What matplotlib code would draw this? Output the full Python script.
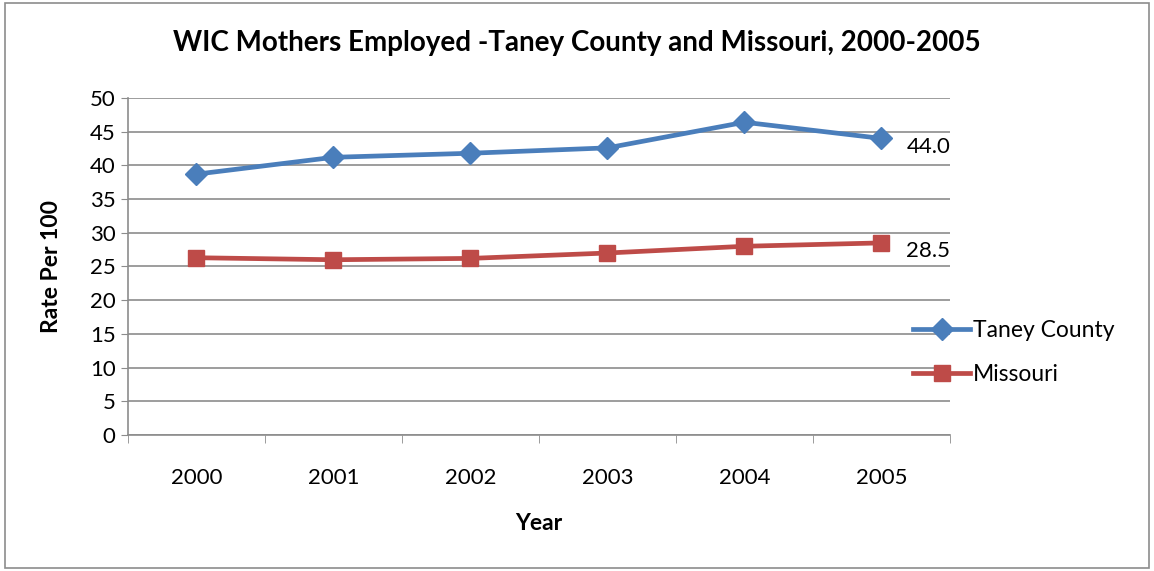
import matplotlib.pyplot as plt
import matplotlib.patches as mpatches
import numpy as np

plt.rcParams['font.family'] = ['Lato', 'DejaVu Sans']

# Data
years = ['2000', '2001', '2002', '2003', '2004', '2005']
taney = [38.7, 41.2, 41.8, 42.6, 46.4, 44.0]
missouri = [26.3, 26.0, 26.2, 27.0, 28.0, 28.5]
y_ticks = [0, 5, 10, 15, 20, 25, 30, 35, 40, 45, 50]

blue = '#4A7EBB'
red = '#BE4B48'
grid_gray = '#8C8C8C'

fig = plt.figure(figsize=(11.54, 5.71), dpi=100)
ax = fig.add_axes([0.1109, 0.2382, 0.7123, 0.5902])

x = np.arange(len(years))
ax.plot(x, taney, color=blue, lw=3.4, marker='D', markersize=11,
        label='Taney County', solid_joinstyle='round')
ax.plot(x, missouri, color=red, lw=3.4, marker='s', markersize=12,
        label='Missouri', solid_joinstyle='round')

# value labels at last point
ax.annotate(f'{taney[-1]:.1f}', (x[-1], taney[-1]), xytext=(18, -6),
            textcoords='offset points', va='center', ha='left', fontsize=16)
ax.annotate(f'{missouri[-1]:.1f}', (x[-1], missouri[-1]), xytext=(18, -6),
            textcoords='offset points', va='center', ha='left', fontsize=16)

ax.set_xlim(-0.5, len(years) - 0.5)
ax.set_ylim(0, 50)
ax.set_yticks(y_ticks)
ax.tick_params(axis='y', labelsize=16, length=5, color=grid_gray, pad=4)
ax.set_xticks(x)
ax.set_xticklabels(years)
ax.tick_params(axis='x', which='major', length=0, labelsize=16, pad=24)
ax.set_xticks(np.arange(-0.5, len(years)), minor=True)
ax.tick_params(axis='x', which='minor', length=6, color=grid_gray)

ax.grid(axis='y', color=grid_gray, lw=1.2)
ax.set_axisbelow(True)
for side in ['top', 'right']:
    ax.spines[side].set_visible(False)
for side in ['left', 'bottom']:
    ax.spines[side].set_color(grid_gray)
    ax.spines[side].set_linewidth(1.2)

ax.set_xlabel('Year', fontsize=16.5, fontweight='bold', labelpad=18)
ax.set_ylabel('Rate Per 100', fontsize=16.5, fontweight='bold', labelpad=20)

fig.suptitle('WIC Mothers Employed -Taney County and Missouri, 2000-2005',
             x=0.5, y=0.948, fontsize=20, fontweight='bold')

ax.legend(loc='center left', bbox_to_anchor=(0.93, 0.245), frameon=False,
          fontsize=16.5, handlelength=2.5, handletextpad=0.1, labelspacing=1.0)

# outer chart border
fig.patches.append(mpatches.Rectangle((0.004, 0.005), 0.992, 0.99,
                                      transform=fig.transFigure, fill=False,
                                      edgecolor='#8C8C8C', lw=1.2))

fig.savefig('out.png', dpi=100)
